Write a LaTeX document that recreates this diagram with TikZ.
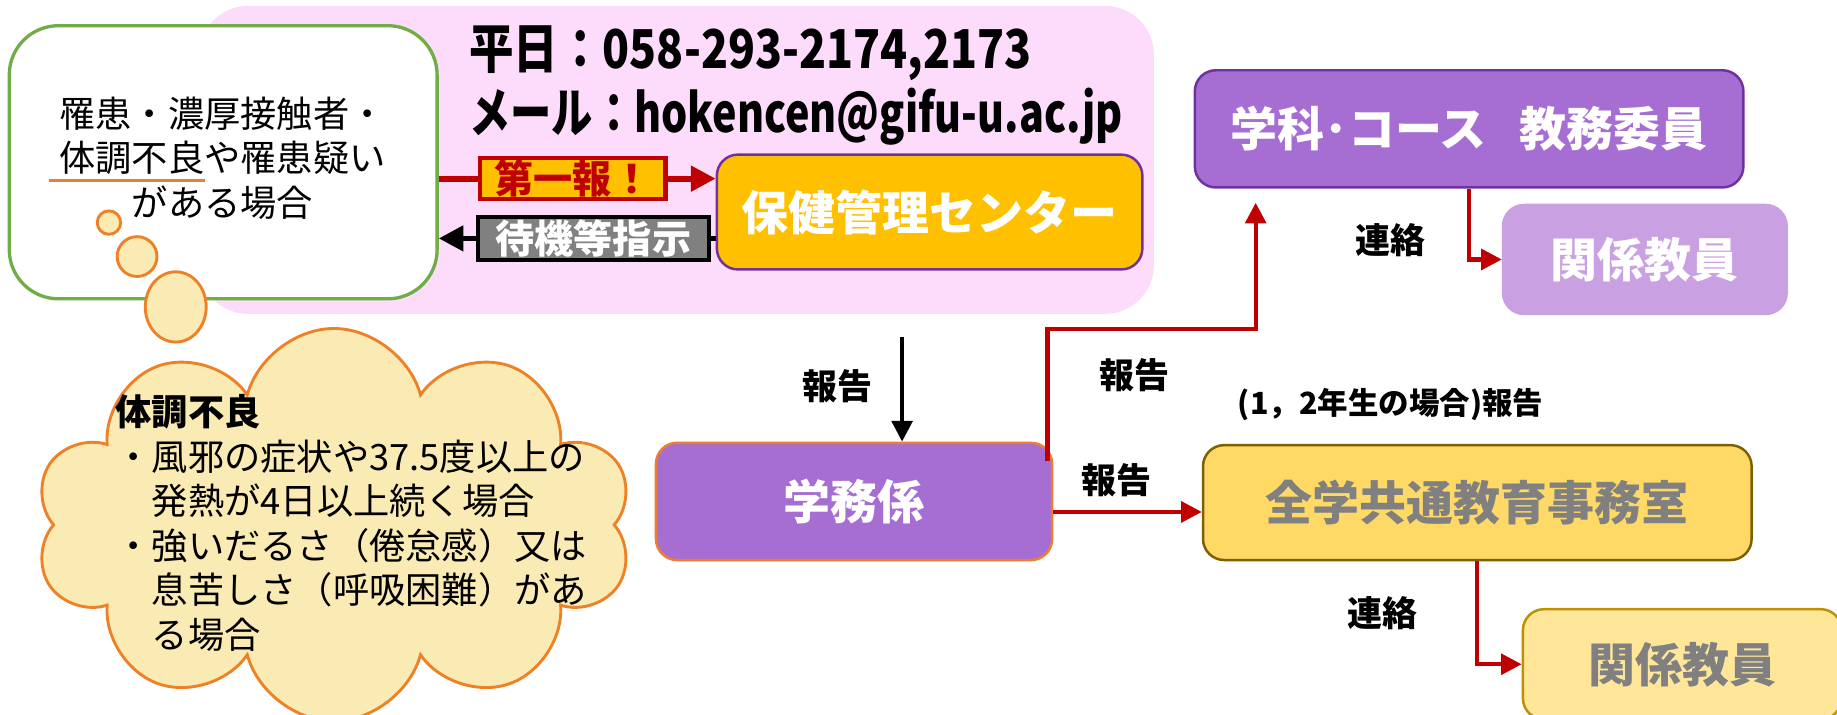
\documentclass[tikz,border=0pt]{standalone}
\usepackage{fontspec}
\setmainfont{Noto Sans CJK JP}
\usepackage{tikz}
\usetikzlibrary{calc}
\usetikzlibrary{shapes.symbols,arrows.meta,positioning}

\definecolor{pinkbg}{HTML}{FDDCFB}
\definecolor{boxgreen}{HTML}{70AD47}
\definecolor{ulorange}{HTML}{ED7D31}
\definecolor{cloudfill}{HTML}{FAEBB4}
\definecolor{cloudline}{HTML}{EE8125}
\definecolor{myred}{HTML}{C00000}
\definecolor{gold}{HTML}{FFC000}
\definecolor{violet}{HTML}{7030A0}
\definecolor{lilac}{HTML}{A66DD3}
\definecolor{lilaclight}{HTML}{C9A1E2}
\definecolor{sand}{HTML}{FFD966}
\definecolor{sandlight}{HTML}{FFE699}
\definecolor{olive}{HTML}{7F6000}
\definecolor{ochre}{HTML}{BF9000}
\definecolor{greytext}{HTML}{808080}

\tikzset{
  flowbox/.style={rectangle, rounded corners=0.18cm, line width=0.6pt, inner sep=0pt,
    font=\fontsize{11.4}{13}\selectfont\bfseries, text=white},
  lbl/.style={font=\fontsize{8.5}{10}\selectfont\bfseries},
  bodytext/.style={font=\fontsize{8.8}{10.8}\selectfont},
  headtext/.style={anchor=west, inner sep=0pt, font=\fontsize{13}{15}\selectfont\bfseries},
  redarr/.style={draw=myred, line width=1pt, -{Triangle[length=5pt,width=5pt]}},
  tag/.style={rectangle, line width=1pt, inner sep=0pt,
    font=\fontsize{9.5}{11}\selectfont\bfseries},
}

\begin{document}
\begin{tikzpicture}[x=0.01cm, y=-0.01cm]
    \useasboundingbox (0,0) rectangle (1568,610);

    % contact area
    \fill[pinkbg, rounded corners=0.42cm] (170,5) rectangle (985,268);
    \node[headtext] (tel) at (400,45)
        {\scalebox{0.83}[1]{平日：058-293-2174,2173}};
    \node[headtext] (mail) at (400,100)
        {\scalebox{0.77}[1]{メール：hokencen@gifu-u.ac.jp}};

    % student
    \node[draw=boxgreen, fill=white, line width=0.8pt, rounded corners=0.42cm,
        minimum width=3.65cm, minimum height=2.33cm] (kansen) at (190.5,138.5) {};
    \node[bodytext, align=center] (kansentxt) at (190,135)
        {罹患・濃厚接触者・\\体調不良や罹患疑い\\がある場合};
    \draw[ulorange, line width=0.9pt] (42,154) -- (175,154);

    % thought bubbles
    \draw[cloudline, fill=cloudfill, line width=0.7pt] (93,190) circle (10);
    \draw[cloudline, fill=cloudfill, line width=0.7pt] (117,219) circle (17);
    \draw[cloudline, fill=cloudfill, line width=0.7pt] (150,262) ellipse (26 and 30);
    \node[cloud, cloud puffs=10, aspect=1.5, draw=cloudline, fill=cloudfill, line width=0.7pt,
        minimum width=5.1cm, minimum height=3.35cm] (kumo) at (285,448) {};
    \node[bodytext, align=left, anchor=north west, inner sep=0pt] (kumotxt) at (98,336)
        {\textbf{体調不良}\\
         ・風邪の症状や37.5度以上の\\
         \hspace*{1em}発熱が4日以上続く場合\\
         ・強いだるさ（倦怠感）又は\\
         \hspace*{1em}息苦しさ（呼吸困難）があ\\
         \hspace*{1em}る場合};

    % boxes
    \node[flowbox, draw=violet, fill=gold, minimum width=3.63cm, minimum height=0.98cm]
        (hoken) at (793.5,181) {保健管理センター};
    \node[flowbox, draw=ulorange, fill=lilac, minimum width=3.38cm, minimum height=1cm]
        (gakumu) at (729,428) {学務係};
    \node[flowbox, draw=violet, fill=lilac, minimum width=4.68cm, minimum height=1cm]
        (kyomu) at (1254,110) {学科･コース\hspace{0.7em}教務委員};
    \node[flowbox, draw=lilaclight, fill=lilaclight, minimum width=2.42cm, minimum height=0.93cm]
        (kankeiA) at (1404,221.5) {関係教員};
    \node[flowbox, draw=olive, fill=sand, text=greytext, minimum width=4.68cm, minimum height=0.98cm]
        (zenkyo) at (1261,429) {全学共通教育事務室};
    \node[flowbox, draw=ochre, fill=sandlight, text=greytext, minimum width=2.72cm, minimum height=0.94cm]
        (kankeiB) at (1436,567) {関係教員};

    % first report / instruction
    \node[tag, draw=myred, fill=gold, text=myred, minimum width=1.58cm, minimum height=0.35cm]
        (daiippo) at (489,152.5) {第一報！};
    \node[tag, draw=black, fill=greytext, text=white, minimum width=1.97cm, minimum height=0.37cm]
        (taiki) at (506.5,203.5) {待機等指示};
    \draw[myred, line width=1.4pt] (kansen.east |- daiippo) -- (daiippo.west);
    \draw[myred, line width=1.4pt, -{Triangle[length=6pt,width=6pt]}] (daiippo.east) -- (hoken.west |- daiippo);
    \draw[black, line width=1.4pt] (hoken.west |- taiki) -- (taiki.east);
    \draw[black, line width=1.4pt, -{Triangle[length=6pt,width=6pt]}] (taiki.west) -- (kansen.east |- taiki);

    % reports
    \coordinate (hokoku) at (770,288);
    \draw[black, line width=0.9pt, -{Triangle[length=5pt,width=5pt]}] (hokoku) -- (hokoku |- gakumu.north);
    \node[lbl] (lblA) at (715,330) {報告};
    \draw[redarr] ($(gakumu.north east)+(-5,17)$) -- ++(0,-113) -| ($(kyomu.south west)+(53,12)$);
    \node[lbl] (lblB) at (968,320) {報告};
    \draw[redarr] ($(gakumu.east)+(0,9)$) -- ($(zenkyo.west)+(0,8)$);
    \node[lbl] (lblC) at (953,410) {報告};
    \node[font=\fontsize{7.4}{9}\selectfont\bfseries] (lblD) at (1187,345) {(1，2年生の場合)報告};

    % contacts
    \draw[redarr] (kyomu.south) |- (kankeiA.west);
    \node[lbl] (lblE) at (1187,205) {連絡};
    \draw[redarr] (zenkyo.south) |- (kankeiB.west);
    \node[lbl] (lblF) at (1180,523) {連絡};
\end{tikzpicture}
\end{document}
